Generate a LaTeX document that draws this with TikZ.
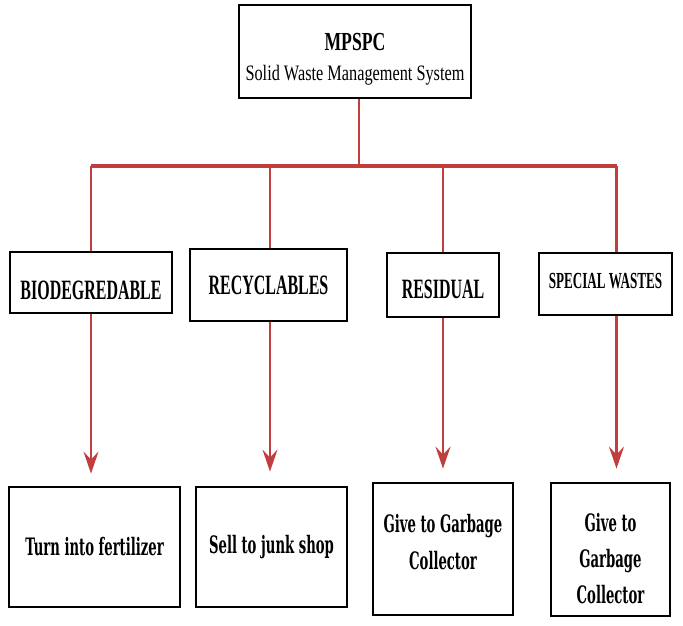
\documentclass[tikz,border=0pt]{standalone}
\usepackage{fontspec}
\setmainfont{Liberation Serif}
\newfontfamily\narrowserif[FakeStretch=0.57]{Liberation Serif}
\newfontfamily\subserif[FakeStretch=0.74]{Liberation Serif}
\newfontfamily\titleserif[FakeStretch=0.68]{Liberation Serif}
\newfontfamily\slabserif[FakeStretch=0.55]{DejaVu Serif}
\usetikzlibrary{arrows.meta, calc}

\definecolor{linkred}{RGB}{192,62,62}

\begin{document}
\begin{tikzpicture}[x=1pt, y=1pt,
    topbox/.style={draw, line width=2.8pt, align=center, inner sep=0pt},
    groupbox/.style={draw, line width=2.8pt, align=center, inner sep=0pt, font=\narrowserif\bfseries\fontsize{28}{32}\selectfont},
    actionbox/.style={draw, line width=2.8pt, align=center, inner sep=0pt, font=\slabserif\bfseries\fontsize{24}{37}\selectfont},
    branch/.style={draw=linkred, line width=2.6pt},
    trunk/.style={draw=linkred, line width=4.2pt},
    arrowline/.style={draw=linkred, line width=2.6pt, -{Stealth[length=22pt, width=15pt, inset=8pt]}}]

\useasboundingbox (0,0) rectangle (683,-625);

\node (top) at (355, -51.5) [topbox, minimum width=232pt, minimum height=93pt]
  {{\titleserif\bfseries\fontsize{26}{30}\selectfont\rule{0pt}{33pt}MPSPC}\\[14pt]{\subserif\fontsize{22}{26}\selectfont Solid Waste Management System}};

\node (bio)     at (91, -282.5)  [groupbox, minimum width=162pt, minimum height=61pt] {\rule{0pt}{34pt}BIODEGREDABLE};
\node (recycle) at (268.5, -285) [groupbox, minimum width=157pt, minimum height=72pt] {RECYCLABLES};
\node (resid)   at (443, -285)   [groupbox, minimum width=112pt, minimum height=64pt] {\rule{0pt}{28pt}RESIDUAL};
\node (special) at (605.5, -284) [groupbox, minimum width=133pt, minimum height=62pt, font=\narrowserif\bfseries\fontsize{23}{27}\selectfont] {SPECIAL WASTES\rule[-6pt]{0pt}{0pt}};

\node (fert)    at (94.5, -547)  [actionbox, minimum width=171pt, minimum height=120pt] {Turn into fertilizer};
\node (junk)    at (271.5, -547) [actionbox, minimum width=151pt, minimum height=120pt] {Sell to junk shop};
\node (garbage) at (443, -549)   [actionbox, minimum width=140pt, minimum height=132pt] {Give to Garbage\\Collector\rule[-14pt]{0pt}{0pt}};
\node (special2) at (610.5, -549.5) [actionbox, minimum width=119pt, minimum height=133pt, font=\slabserif\bfseries\fontsize{24}{36}\selectfont] {\rule{0pt}{36pt}Give to\\Garbage\\Collector};

\coordinate (hub) at (359, -166);
\coordinate (spcol) at ([xshift=11pt]special.south);

% tree lines
\path[branch] ([xshift=4pt]top.south) -- (hub);
\path[trunk] (bio.north |- hub) -- (spcol |- hub);
\path[branch] (bio.north |- hub) -- (bio.north);
\path[branch] ([xshift=1.5pt]recycle.north |- hub) -- ([xshift=1.5pt]recycle.north);
\path[branch] (resid.north |- hub) -- (resid.north);
\path[branch] (spcol |- hub) -- (spcol |- special.north);

% arrows
\path[arrowline] (bio.south) -- ($(bio.south |- fert.north)+(0,12)$);
\path[arrowline] ([xshift=1.5pt]recycle.south) -- ($([xshift=1.5pt]recycle.south |- junk.north)+(0,14)$);
\path[arrowline] (resid.south) -- ($(resid.south |- garbage.north)+(0,13)$);
\path[arrowline] (spcol) -- ($(spcol |- special2.north)+(0,13)$);

\end{tikzpicture}
\end{document}
